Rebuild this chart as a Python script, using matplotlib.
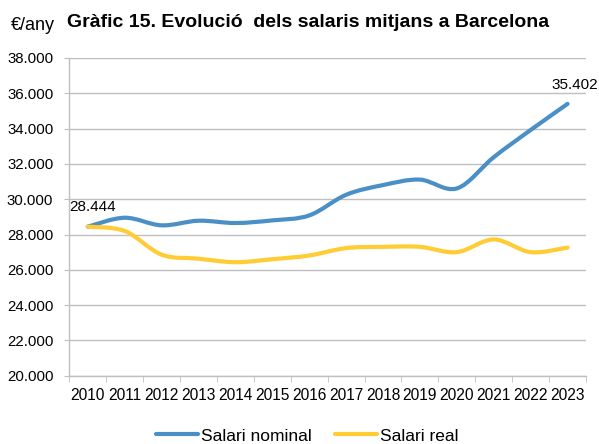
import numpy as np
import matplotlib.pyplot as plt
from matplotlib.path import Path
from matplotlib.patches import PathPatch
from matplotlib.ticker import FuncFormatter

plt.rcParams['font.family'] = ['Liberation Sans', 'DejaVu Sans']

years = [str(y) for y in range(2010, 2024)]
nominal = [28444, 28950, 28520, 28780, 28650, 28800, 29080, 30250, 30800, 31110, 30610, 32380, 33920, 35402]
real = [28444, 28200, 26860, 26630, 26430, 26600, 26810, 27230, 27300, 27300, 27000, 27720, 27000, 27260]

blue = '#4a90c6'
yellow = '#ffcc33'
grid_col = '#bfbfbf'


def smooth_path(xs, ys):
    # Catmull-Rom style smoothing expressed as cubic Bezier segments
    pts = np.column_stack([xs, ys]).astype(float)
    n = len(pts)
    verts = [pts[0]]
    codes = [Path.MOVETO]
    for i in range(n - 1):
        p0 = pts[i - 1] if i > 0 else pts[i]
        p1 = pts[i]
        p2 = pts[i + 1]
        p3 = pts[i + 2] if i + 2 < n else pts[i + 1]
        c1 = p1 + (p2 - p0) / 6
        c2 = p2 - (p3 - p1) / 6
        verts += [c1, c2, p2]
        codes += [Path.CURVE4] * 3
    return Path(verts, codes)


fig = plt.figure(figsize=(5.99, 4.44), dpi=100)
ax = fig.add_axes([0.1157, 0.1538, 0.8626, 0.7156])

x = np.arange(len(years))
for vals, col, name in [(nominal, blue, 'Salari nominal'), (real, yellow, 'Salari real')]:
    patch = PathPatch(smooth_path(x, vals), facecolor='none', edgecolor=col,
                      lw=3, capstyle='round', joinstyle='round', zorder=3)
    ax.add_patch(patch)
    ax.plot([], [], color=col, lw=3, solid_capstyle='round', label=name)

ax.set_xlim(-0.5, len(years) - 0.5)
ax.set_ylim(20000, 38000)
ax.set_yticks(np.arange(20000, 38001, 2000))
ax.yaxis.set_major_formatter(FuncFormatter(lambda v, p: f'{v/1000:.3f}'))
ax.set_xticks(x)
ax.set_xticklabels(years)
ax.set_xticks(np.arange(-0.5, len(years), 1), minor=True)
ax.tick_params(axis='x', which='major', length=0, pad=9, labelsize=11.2)
ax.tick_params(axis='x', which='minor', length=4, color=grid_col, direction='out')
ax.tick_params(axis='y', length=3.5, color=grid_col, pad=8, labelsize=10.8)

ax.grid(axis='y', color=grid_col, lw=1)
ax.set_axisbelow(True)
for s in ['top', 'right']:
    ax.spines[s].set_visible(False)
for s in ['left', 'bottom']:
    ax.spines[s].set_color(grid_col)
    ax.spines[s].set_linewidth(1)

# data labels for first and last nominal values
ax.annotate(f'{nominal[0]/1000:.3f}', (x[0], nominal[0]), xytext=(3.5, 9),
            textcoords='offset points', ha='center', va='bottom', fontsize=11)
ax.annotate(f'{nominal[-1]/1000:.3f}', (x[-1], nominal[-1]), xytext=(5, 8.5),
            textcoords='offset points', ha='center', va='bottom', fontsize=11)

fig.text(0.019, 0.9324, '€/any', fontsize=13, va='baseline')
fig.text(0.112, 0.9385, 'Gràfic 15. Evolució  dels salaris mitjans a Barcelona',
         fontsize=14, fontweight='bold', va='baseline')

fig.legend(*ax.get_legend_handles_labels(), loc='center',
           bbox_to_anchor=(0.513, 1 - 436 / 444), bbox_transform=fig.transFigure,
           ncol=2, frameon=False, fontsize=12.5, handlelength=2.4,
           handletextpad=0.17, columnspacing=1.38, borderpad=0)

fig.savefig('out.png', dpi=100)
